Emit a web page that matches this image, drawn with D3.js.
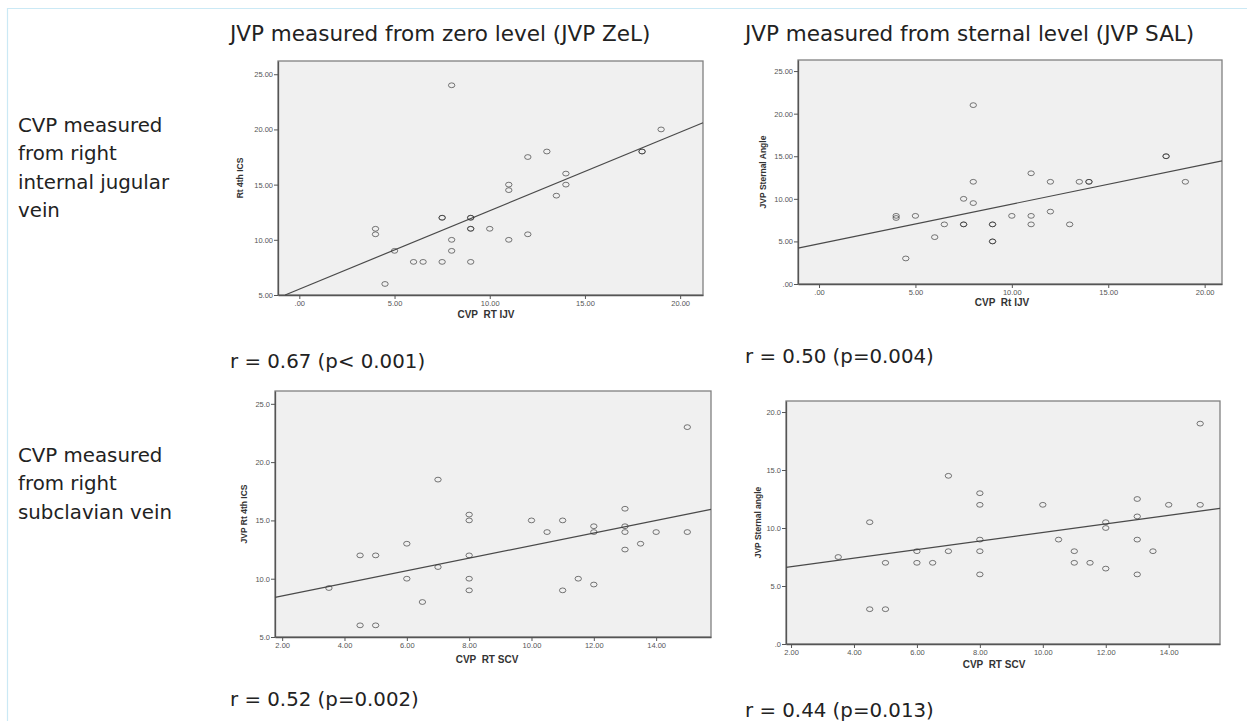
<!DOCTYPE html>
<html>
<head>
<meta charset="utf-8">
<script src="https://cdn.jsdelivr.net/npm/d3@7"></script>
<style>
  body { margin: 0; background: #fff; }
  .big { font-family: 'DejaVu Sans', sans-serif; fill: #222; }
  .tick text { font-family: 'Liberation Sans', Arial, sans-serif; font-size: 7.5px; fill: #555; }
  .atitle { font-family: 'Liberation Sans', Arial, sans-serif; font-weight: bold; fill: #333; }
</style>
</head>
<body>
<script>
// column titles / row labels / r values
var colTitles = ["JVP measured from zero level (JVP ZeL)", "JVP measured from sternal level (JVP SAL)"];
var rowLabels = [["CVP measured", "from right", "internal jugular", "vein"],
                 ["CVP measured", "from right", "subclavian vein"]];
var rLabels = ["r = 0.67 (p< 0.001)", "r = 0.50 (p=0.004)", "r = 0.52 (p=0.002)", "r = 0.44 (p=0.013)"];

// panel 1 : CVP RT IJV vs Rt 4th ICS
var ijvZelX = [8,4,4,5,4.5,6,6.5,7.5,7.5,7.5,8,8,9,9,9,9,9,10,11,11,11,12,12,13,13.5,14,14,18,18,19];
var ijvZelY = [24,11,10.5,9,6,8,8,12,12,8,10,9,12,12,11,11,8,11,10,15,14.5,17.5,10.5,18,14,16,15,18,18,20];
// panel 2 : CVP Rt IJV vs JVP Sternal Angle
var ijvSalX = [8,4,4,5,4.5,6.5,6,7.5,7.5,7.5,8,8,9,9,9,9,10,11,11,11,12,12,13,13.5,14,14,18,18,19];
var ijvSalY = [21,8,7.75,8,3,7,5.5,10,7,7,12,9.5,7,7,5,5,8,13,8,7,12,8.5,7,12,12,12,15,15,12];
// panel 3 : CVP RT SCV vs JVP Rt 4th ICS
var scvZelX = [3.5,4.5,4.5,5,5,6,6,6.5,7,7,8,8,8,8,8,10,10.5,11,11,11.5,12,12,12,13,13,13,13,13.5,14,15,15];
var scvZelY = [9.2,12,6,12,6,13,10,8,18.5,11,15.5,15,12,10,9,15,14,15,9,10,14.5,14,9.5,16,14.5,14,12.5,13,14,23,14];
// panel 4 : CVP RT SCV vs JVP Sternal angle
var scvSalX = [3.5,4.5,4.5,5,5,6,6,6.5,7,7,8,8,8,8,8,10,10.5,11,11,11.5,12,12,12,13,13,13,13,13.5,14,15,15];
var scvSalY = [7.5,10.5,3,7,3,8,7,7,14.5,8,13,12,9,8,6,12,9,8,7,7,10.5,10,6.5,12.5,11,9,6,8,12,19,12];

// fit lines [intercept, slope] as drawn in the original
var fitIntercepts = [5.53, 4.72, 7.44, 5.93];
var fitSlopes = [0.711, 0.466, 0.540, 0.369];

var xTicks = [[0,5,10,15,20],[0,5,10,15,20],[2,4,6,8,10,12,14],[2,4,6,8,10,12,14]];
var yTicks = [[5,10,15,20,25],[0,5,10,15,20,25],[5,10,15,20,25],[0,5,10,15,20]];
var tickDecimals = [2, 2, 1, 1];
var xTitles = ["CVP  RT IJV", "CVP  Rt IJV", "CVP  RT SCV", "CVP  RT SCV"];
var yTitles = ["Rt 4th ICS", "JVP Sternal Angle", "JVP Rt 4th ICS", "JVP Sternal angle"];

var xDomains = [[-1.12, 21.2], [-1.09, 20.9], [1.77, 15.76], [1.84, 15.63]];
var yDomains = [[5, 26.2], [0, 26.3], [5, 26.1], [0, 20.95]];

// layout of each panel box (left, top, right, bottom)
var boxes = [[278, 61, 703, 295], [798, 60, 1222, 284], [275, 391, 711, 637], [786, 401, 1220, 644]];
var xTitlePos = [[486, 318], [1002, 306], [487, 663], [994, 668]];
var yTitleX = [240, 763, 244, 758];
var rPos = [[230, 368], [745, 363], [230, 706], [745, 717]];

var panels = [[ijvZelX, ijvZelY], [ijvSalX, ijvSalY], [scvZelX, scvZelY], [scvSalX, scvSalY]];

var width = 1247, height = 721;

var svg = d3.select("body").append("svg")
    .attr("width", width)
    .attr("height", height);

// thin light-blue frame at top / left
svg.append("line").attr("x1", 7).attr("x2", width).attr("y1", 8.5).attr("y2", 8.5)
    .attr("stroke", "#cbe9f5").attr("stroke-width", 1.2);
svg.append("line").attr("x1", 7.5).attr("x2", 7.5).attr("y1", 8).attr("y2", height)
    .attr("stroke", "#cbe9f5").attr("stroke-width", 1.2);

svg.selectAll("text.coltitle")
    .data(colTitles)
    .enter()
    .append("text")
    .attr("class", "big coltitle")
    .attr("x", function(d, i){ return i == 0 ? 230 : 745; })
    .attr("y", 41)
    .attr("font-size", 21.5)
    .text(function(d){ return d; });

var rowTops = [132, 462];
rowLabels.forEach(function(lines, r){
    svg.append("text")
        .attr("class", "big")
        .attr("font-size", 19.8)
        .selectAll("tspan")
        .data(lines)
        .enter()
        .append("tspan")
        .attr("x", 18)
        .attr("y", function(d, i){ return rowTops[r] + i * 28.3; })
        .text(function(d){ return d; });
});

svg.selectAll("text.rlab")
    .data(rLabels)
    .enter()
    .append("text")
    .attr("class", "big rlab")
    .attr("x", function(d, i){ return rPos[i][0]; })
    .attr("y", function(d, i){ return rPos[i][1]; })
    .attr("font-size", 19.8)
    .text(function(d){ return d; });

function fmt(dec){
    var f = d3.format("." + dec + "f");
    return function(v){ return f(v).replace(/^0\./, "."); };
}

panels.forEach(function(p, k){
    var b = boxes[k];
    var x = d3.scaleLinear().domain(xDomains[k]).range([b[0], b[2]]);
    var y = d3.scaleLinear().domain(yDomains[k]).range([b[3], b[1]]);
    var g = svg.append("g");

    g.append("rect")
        .attr("x", b[0]).attr("y", b[1])
        .attr("width", b[2] - b[0]).attr("height", b[3] - b[1])
        .attr("fill", "#f0f0f0")
        .attr("stroke", "#808080")
        .attr("stroke-width", 1.3);

    var xa = g.append("g")
        .attr("transform", "translate(0," + b[3] + ")")
        .call(d3.axisBottom(x).tickValues(xTicks[k]).tickFormat(fmt(2)).tickSize(4).tickSizeOuter(0).tickPadding(2));
    var ya = g.append("g")
        .attr("transform", "translate(" + b[0] + ",0)")
        .call(d3.axisLeft(y).tickValues(yTicks[k]).tickFormat(fmt(tickDecimals[k])).tickSize(4).tickSizeOuter(0).tickPadding(1));
    [xa, ya].forEach(function(a){
        a.select(".domain").attr("stroke", "#555").attr("stroke-width", 1.3);
        a.selectAll(".tick line").attr("stroke", "#555");
    });

    // regression line clipped to the box
    var x0 = xDomains[k][0], x1 = xDomains[k][1];
    var a0 = fitIntercepts[k], s = fitSlopes[k];
    var yMin = yDomains[k][0];
    if (a0 + s * x0 < yMin) { x0 = (yMin - a0) / s; }
    g.append("line")
        .attr("x1", x(x0)).attr("y1", y(a0 + s * x0))
        .attr("x2", x(x1)).attr("y2", y(a0 + s * x1))
        .attr("stroke", "#4a4a4a")
        .attr("stroke-width", 1.2);

    g.selectAll("ellipse")
        .data(d3.range(p[0].length))
        .enter()
        .append("ellipse")
        .attr("cx", function(i){ return x(p[0][i]); })
        .attr("cy", function(i){ return y(p[1][i]); })
        .attr("rx", 3.2)
        .attr("ry", 2.4)
        .attr("fill", "none")
        .attr("stroke", "#333")
        .attr("stroke-opacity", 0.65)
        .attr("stroke-width", 1);

    g.append("text")
        .attr("class", "atitle")
        .attr("x", xTitlePos[k][0])
        .attr("y", xTitlePos[k][1])
        .attr("text-anchor", "middle")
        .attr("font-size", 10)
        .style("white-space", "pre")
        .text(xTitles[k]);

    g.append("text")
        .attr("class", "atitle")
        .attr("transform", "translate(" + (yTitleX[k] + 3) + "," + ((b[1] + b[3]) / 2) + ") rotate(-90)")
        .attr("text-anchor", "middle")
        .attr("font-size", 8.5)
        .text(yTitles[k]);
});
</script>
</body>
</html>
